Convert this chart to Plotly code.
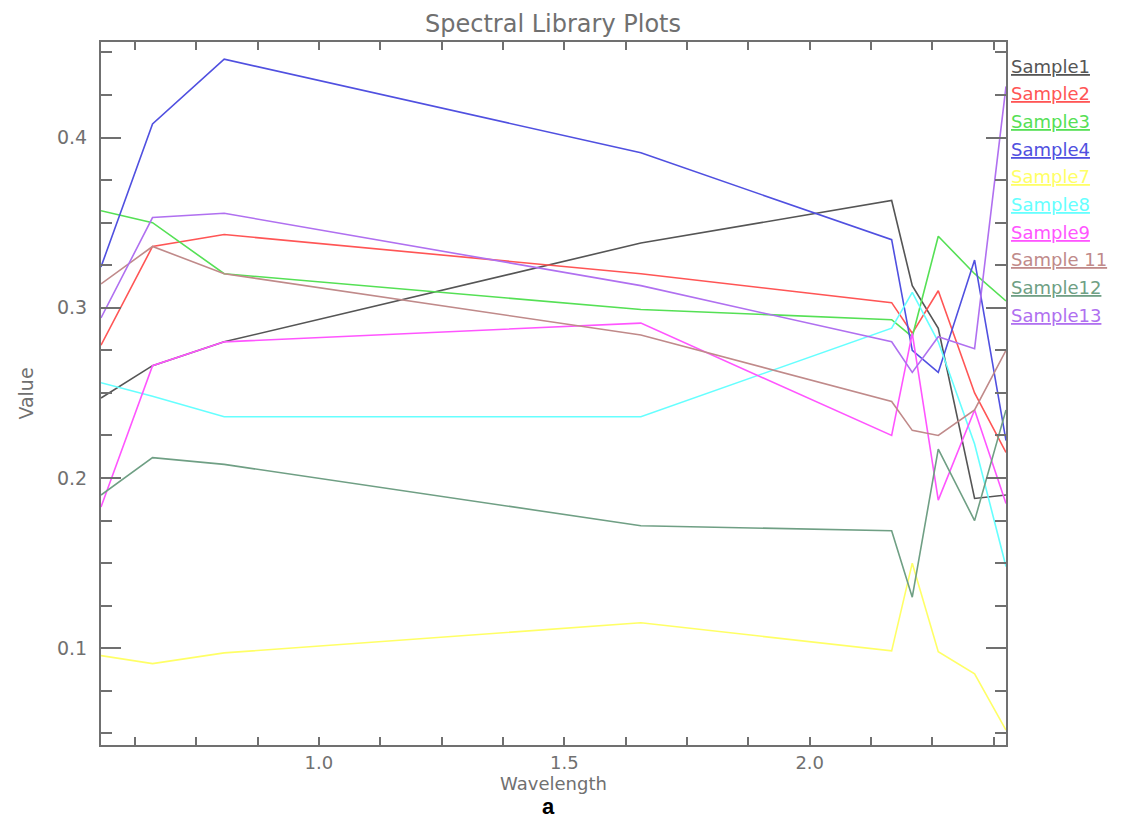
import plotly.graph_objects as go

wavelength = [0.556, 0.661, 0.807, 1.656, 2.167, 2.209, 2.262, 2.336, 2.400]

sample_names = ["Sample1", "Sample2", "Sample3", "Sample4", "Sample7",
                "Sample8", "Sample9", "Sample 11", "Sample12", "Sample13"]

sample1 = [0.247, 0.266, 0.280, 0.338, 0.363, 0.313, 0.288, 0.188, 0.190]
sample2 = [0.278, 0.336, 0.343, 0.320, 0.303, 0.285, 0.310, 0.250, 0.215]
sample3 = [0.357, 0.350, 0.320, 0.299, 0.293, 0.283, 0.342, 0.320, 0.304]
sample4 = [0.324, 0.408, 0.446, 0.391, 0.340, 0.275, 0.262, 0.328, 0.222]
sample7 = [0.0957, 0.091, 0.0973, 0.115, 0.0985, 0.150, 0.098, 0.085, 0.052]
sample8 = [0.256, 0.248, 0.236, 0.236, 0.288, 0.309, 0.280, 0.220, 0.148]
sample9 = [0.183, 0.266, 0.280, 0.291, 0.225, 0.285, 0.187, 0.240, 0.185]
sample11 = [0.314, 0.336, 0.320, 0.284, 0.245, 0.228, 0.225, 0.240, 0.275]
sample12 = [0.190, 0.212, 0.208, 0.172, 0.169, 0.130, 0.217, 0.175, 0.240]
sample13 = [0.294, 0.353, 0.3555, 0.313, 0.280, 0.262, 0.283, 0.276, 0.430]

series = [sample1, sample2, sample3, sample4, sample7,
          sample8, sample9, sample11, sample12, sample13]

colors = ["#555555", "#ff5555", "#55e055", "#5050e0", "#ffff66",
          "#66ffff", "#ff55ff", "#c08a8a", "#6f9f84", "#b070f0"]

fig = go.Figure()
for name, vals, col in zip(sample_names, series, colors):
    fig.add_trace(go.Scatter(x=wavelength, y=vals, mode="lines", name=name,
                             line=dict(color=col, width=1.6), showlegend=False))

L, R, T, B = 101, 1006, 42, 745
W, H = 1140, 819
axis_col = "#707070"
font_fam = "DejaVu Sans"

annotations = []
for i, (name, col) in enumerate(zip(sample_names, colors)):
    py = 66 + i * 27.7
    annotations.append(dict(
        text=name, xref="paper", yref="paper",
        x=(1009 - L) / (R - L), y=(B - py) / (B - T),
        xanchor="left", yanchor="middle", showarrow=False,
        font=dict(family=font_fam, size=18, color=col, lineposition="under")))

annotations.append(dict(text="<b>a</b>", xref="paper", yref="paper",
                        x=(548 - L) / (R - L), y=(B - 806) / (B - T),
                        xanchor="center", yanchor="middle", showarrow=False,
                        height=22,
                        font=dict(family="Liberation Sans", size=22, color="black")))

fig.update_layout(
    width=W, height=H,
    margin=dict(l=L, r=W - R, t=T, b=H - B),
    paper_bgcolor="white", plot_bgcolor="white",
    title=dict(text="Spectral Library Plots", x=553 / W, xanchor="center",
               y=1 - 24 / H, yanchor="middle",
               font=dict(family=font_fam, size=24, color=axis_col)),
    annotations=annotations,
    xaxis=dict(range=[0.556, 2.400], tick0=0, dtick=0.5, tickformat=".1f",
               showline=True, linecolor=axis_col, linewidth=2, mirror="ticks",
               ticks="inside", ticklen=8, tickwidth=1.5, tickcolor=axis_col,
               minor=dict(dtick=0.125, tick0=0, ticklen=8, tickwidth=1.5,
                          tickcolor=axis_col, ticks="inside", showgrid=False),
               showgrid=False, zeroline=False,
               tickfont=dict(family=font_fam, size=18, color=axis_col),
               title=dict(text="Wavelength", standoff=0,
                          font=dict(family=font_fam, size=18, color=axis_col))),
    yaxis=dict(range=[0.0432, 0.4561], tick0=0, dtick=0.1, tickformat=".1f",
               showline=True, linecolor=axis_col, linewidth=2, mirror="ticks",
               ticks="inside", ticklen=20, tickwidth=1.5, tickcolor=axis_col,
               minor=dict(dtick=0.025, tick0=0, ticklen=11, tickwidth=1.5,
                          tickcolor=axis_col, ticks="inside", showgrid=False),
               showgrid=False, zeroline=False, ticklabelstandoff=8,
               tickfont=dict(family=font_fam, size=19, color=axis_col),
               title=dict(text="Value", standoff=18,
                          font=dict(family=font_fam, size=19, color=axis_col))),
)

fig.write_html("out.html")
